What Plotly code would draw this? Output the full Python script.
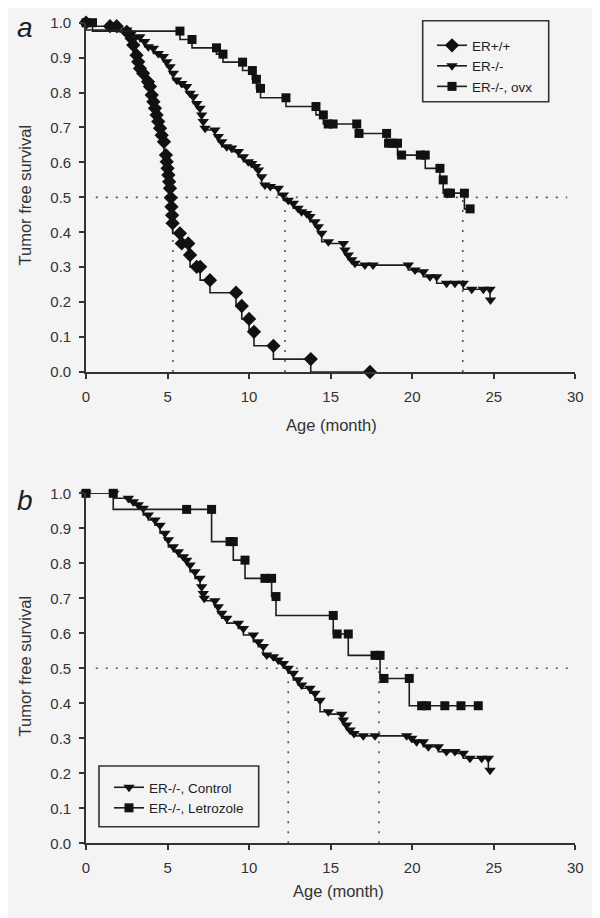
import plotly.graph_objects as go

# ---------------- Data ----------------
months_ticks = [0, 5, 10, 15, 20, 25, 30]
surv_ticks = [0.0, 0.1, 0.2, 0.3, 0.4, 0.5, 0.6, 0.7, 0.8, 0.9, 1.0]

# Panel a
wt_t = [0, 1.47, 1.88, 2.5, 2.8, 2.9, 3.1, 3.2, 3.31, 3.5, 3.8, 3.92, 4.03, 4.13, 4.23,
        4.33, 4.43, 4.54, 4.64, 4.78, 4.9, 4.95, 5.0, 5.05, 5.1, 5.15, 5.2, 5.24, 5.28,
        5.31, 5.76, 5.87, 6.27, 6.38, 6.79, 7.0, 7.6, 9.2, 9.55, 10.0, 10.3, 11.49, 13.78, 17.41]
wt_s = [1.0, 0.99, 0.99, 0.974, 0.955, 0.936, 0.907, 0.888, 0.869, 0.855, 0.831, 0.817,
        0.793, 0.774, 0.755, 0.736, 0.717, 0.698, 0.678, 0.659, 0.621, 0.602, 0.583, 0.564,
        0.545, 0.526, 0.499, 0.473, 0.449, 0.426, 0.397, 0.368, 0.368, 0.335, 0.301, 0.301,
        0.263, 0.227, 0.189, 0.152, 0.115, 0.075, 0.037, 0.0]

ko_t = [0, 2.5, 2.8, 3.3, 3.6, 3.82, 4.13, 4.43, 4.74, 4.95, 5.15, 5.35, 5.56, 5.87, 6.17,
        6.38, 6.58, 6.79, 6.99, 7.09, 7.19, 7.3, 7.9, 8.11, 8.32, 8.63, 8.93, 9.34, 9.65,
        9.95, 10.16, 10.4, 10.57, 10.77, 10.97, 11.3, 11.79, 12.1, 12.4, 12.71, 13.0, 13.22,
        13.53, 13.73, 14.04, 14.24, 14.45, 14.86, 15.78, 15.88, 16.08, 16.29, 16.49, 17.1,
        17.6, 19.76, 20.17, 20.68, 21.09, 21.5, 22.11, 22.62, 23.13, 23.65, 24.36, 24.77, 24.8]
ko_s = [1.0, 0.979, 0.97, 0.96, 0.946, 0.931, 0.927, 0.912, 0.903, 0.888, 0.874, 0.855,
        0.836, 0.826, 0.817, 0.798, 0.788, 0.769, 0.755, 0.736, 0.717, 0.698, 0.693, 0.674,
        0.659, 0.645, 0.641, 0.631, 0.616, 0.602, 0.597, 0.588, 0.578, 0.559, 0.535, 0.531,
        0.526, 0.507, 0.492, 0.483, 0.469, 0.459, 0.454, 0.445, 0.43, 0.416, 0.397, 0.373,
        0.368, 0.349, 0.335, 0.321, 0.311, 0.306, 0.306, 0.306, 0.292, 0.287, 0.273, 0.273,
        0.254, 0.254, 0.254, 0.237, 0.237, 0.237, 0.206]

ovx_t = [0, 0.4, 5.76, 6.5, 8.0, 8.4, 9.6, 10.2, 10.45, 10.7, 12.26, 14.1, 14.55, 14.85,
         15.15, 16.6, 16.74, 18.43, 18.55, 18.8, 19.1, 19.35, 20.5, 20.8, 21.7, 21.9, 22.2,
         22.35, 23.2, 23.55]
ovx_s = [1.0, 1.0, 0.976, 0.952, 0.928, 0.91, 0.887, 0.863, 0.838, 0.812, 0.785, 0.76,
         0.736, 0.71, 0.71, 0.71, 0.683, 0.683, 0.655, 0.655, 0.655, 0.621, 0.621, 0.621,
         0.583, 0.55, 0.512, 0.512, 0.512, 0.467]

# Panel b
ctl_t = [0, 1.7, 2.6, 2.9, 3.2, 3.51, 3.82, 4.23, 4.54, 4.84, 5.05, 5.35, 5.66, 5.97, 6.17,
         6.38, 6.68, 6.99, 7.09, 7.19, 7.25, 7.9, 8.11, 8.32, 8.63, 9.34, 9.65, 10.26, 10.57,
         10.87, 11.08, 11.49, 11.79, 12.1, 12.4, 12.71, 13.01, 13.22, 13.73, 14.04, 14.35,
         14.86, 15.68, 15.78, 15.98, 16.19, 16.43, 17.0, 17.72, 19.66, 19.97, 20.27, 20.68,
         20.99, 21.6, 22.1, 22.62, 23.13, 23.54, 24.26, 24.67, 24.77]
ctl_s = [1.0, 1.0, 0.986, 0.976, 0.967, 0.957, 0.938, 0.924, 0.909, 0.886, 0.867, 0.847,
         0.833, 0.819, 0.809, 0.795, 0.776, 0.757, 0.733, 0.714, 0.7, 0.693, 0.676, 0.657,
         0.643, 0.629, 0.614, 0.595, 0.576, 0.562, 0.538, 0.533, 0.524, 0.514, 0.5, 0.486,
         0.467, 0.452, 0.443, 0.429, 0.409, 0.376, 0.369, 0.352, 0.338, 0.324, 0.314, 0.307,
         0.307, 0.307, 0.3, 0.29, 0.29, 0.276, 0.276, 0.262, 0.262, 0.257, 0.243, 0.243,
         0.243, 0.209]

let_t = [0, 1.67, 6.17, 7.7, 8.83, 9.03, 9.75, 10.97, 11.38, 11.65, 15.16, 15.4, 16.08,
         17.72, 18.03, 18.27, 19.82, 20.58, 20.88, 22.0, 22.99, 24.05]
let_s = [1.0, 1.0, 0.954, 0.954, 0.862, 0.862, 0.809, 0.757, 0.757, 0.705, 0.651, 0.598,
         0.598, 0.537, 0.537, 0.471, 0.471, 0.393, 0.393, 0.393, 0.393, 0.393]

medians_a = [5.33, 12.2, 23.1]
medians_b = [12.4, 17.96]
half = 0.5

# ---------------- Figure ----------------
W, H = 600, 918
OFF = 8  # page body margin: figure is drawn 8px right / 8px down in the window
BG = "#f4f4f4"
INK = "#1e1e1e"
AX = "#333333"
FONT = "Arial"


def px(x):
    return (x - OFF) / W


def py(y):
    return 1 - (y - OFF) / H


fig = go.Figure()


def km(t, s, name, symbol, size, xa, ya, legend):
    fig.add_trace(go.Scatter(
        x=t, y=s, name=name, mode="lines+markers", line_shape="vh",
        line=dict(color=INK, width=1.6),
        marker=dict(symbol=symbol, size=size, color="#111111",
                    line=dict(width=0)),
        xaxis=xa, yaxis=ya, legend=legend, cliponaxis=False))


def ref_lines(meds, xa, ya, xmax):
    xs, ys = [0.6, xmax], [half, half]
    fig.add_trace(go.Scatter(x=xs, y=ys, mode="lines", showlegend=False,
                             line=dict(color="#555555", width=1.6, dash="2px,8px"),
                             xaxis=xa, yaxis=ya, hoverinfo="skip"))
    for m in meds:
        fig.add_trace(go.Scatter(x=[m, m], y=[0, half], mode="lines", showlegend=False,
                                 line=dict(color="#555555", width=1.6, dash="2px,8px"),
                                 xaxis=xa, yaxis=ya, hoverinfo="skip"))


ref_lines(medians_a, "x", "y", 29.5)
ref_lines(medians_b, "x2", "y2", 30)

km(wt_t, wt_s, "ER+/+", "diamond", 11, "x", "y", "legend")
km(ko_t, ko_s, "ER-/-", "triangle-down", 10, "x", "y", "legend")
km(ovx_t, ovx_s, "ER-/-, ovx", "square", 9, "x", "y", "legend")
km(ctl_t, ctl_s, "ER-/-, Control", "triangle-down", 10, "x2", "y2", "legend2")
km(let_t, let_s, "ER-/-, Letrozole", "square", 9, "x2", "y2", "legend2")

xdom = [px(86), px(575.3)]
ya_dom = [py(372), py(22.7)]
yb_dom = [py(843.3), py(493.3)]

xcommon = dict(range=[0, 30], tickvals=months_ticks, showline=True, linecolor=AX,
               linewidth=1.6, ticks="outside", ticklen=5, tickwidth=1.6, tickcolor=AX,
               showgrid=False, zeroline=False, domain=xdom, automargin=False,
               ticklabelstandoff=5,
               tickfont=dict(family=FONT, size=15, color=AX))
ycommon = dict(range=[0, 1], tickvals=surv_ticks, tickformat=".1f", showline=True,
               linecolor=AX, linewidth=1.6, ticks="outside", ticklen=5, tickwidth=1.6,
               tickcolor=AX, showgrid=False, zeroline=False, ticklabelstandoff=5,
               automargin=False,
               tickfont=dict(family=FONT, size=15, color=AX))

leg_common = dict(font=dict(family=FONT, size=13.5, color=INK), bgcolor="rgba(0,0,0,0)",
                  borderwidth=0, tracegroupgap=0, itemwidth=30, xanchor="left",
                  yanchor="top", traceorder="normal")


def ann(text, x, y, size, angle=0, color=AX):
    return dict(text=text, x=px(x), y=py(y), xref="paper", yref="paper",
                xanchor="center", yanchor="middle", showarrow=False, textangle=angle,
                font=dict(family=FONT, size=size, color=color))


annotations = [
    ann("<i>a</i>", 25, 28, 28, color=INK),
    ann("<i>b</i>", 25, 500, 28, color=INK),
    ann("Tumor free survival", 24.5, 195, 16.5, -90),
    ann("Tumor free survival", 24.5, 666, 16.5, -90),
    ann("Age (month)", 331, 425, 16.5),
    ann("Age (month)", 338, 891, 16.5),
]

shapes = [
    dict(type="rect", xref="paper", yref="paper", x0=px(422.7), x1=px(548.7),
         y0=py(101.7), y1=py(20.7), line=dict(color=AX, width=1.6)),
    dict(type="rect", xref="paper", yref="paper", x0=px(99), x1=px(258.7),
         y0=py(826.7), y1=py(766), line=dict(color=AX, width=1.6)),
]

fig.update_layout(
    width=W, height=H, margin=dict(l=0, r=0, t=0, b=0),
    paper_bgcolor=BG, plot_bgcolor=BG, showlegend=True,
    font=dict(family=FONT, color=AX),
    xaxis=dict(**xcommon, anchor="y"),
    yaxis=dict(**ycommon, domain=ya_dom, anchor="x"),
    xaxis2=dict(**xcommon, anchor="y2"),
    yaxis2=dict(**ycommon, domain=yb_dom, anchor="x2"),
    legend=dict(**leg_common, x=px(432), y=py(30)),
    legend2=dict(**leg_common, x=px(109), y=py(772)),
    annotations=annotations, shapes=shapes,
)

fig.write_html("out.html")
